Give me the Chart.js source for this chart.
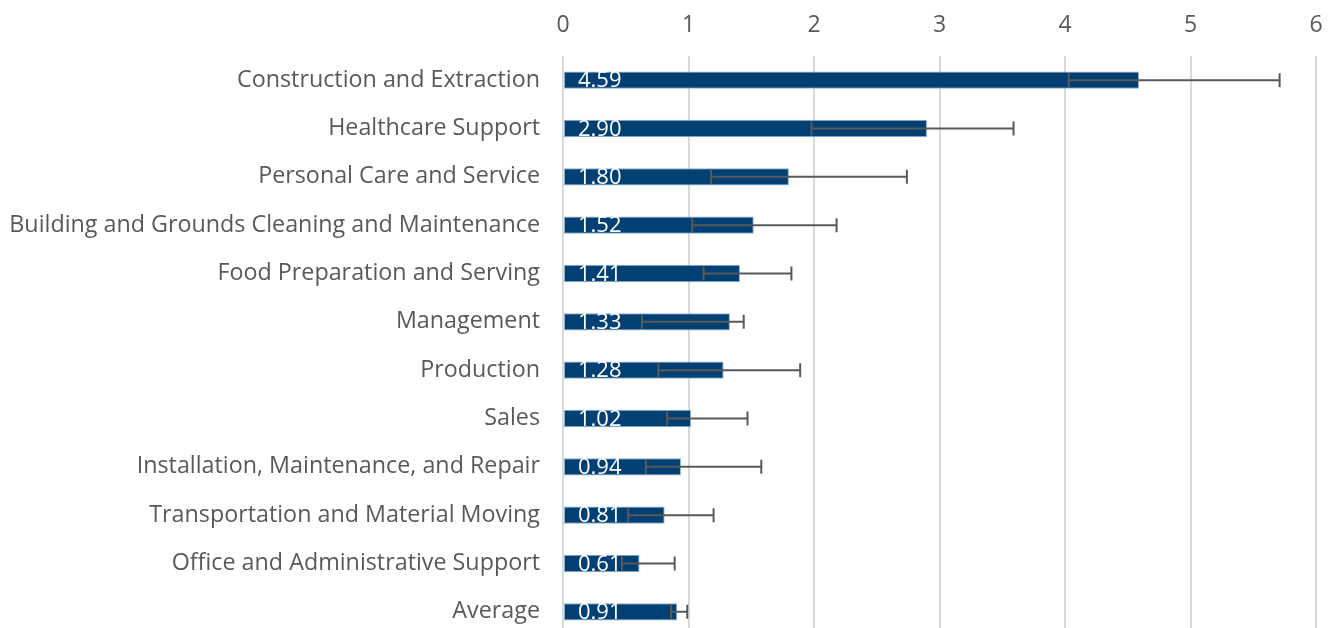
<!DOCTYPE html>
<html lang="en">
  <head>
    <meta charset="UTF-8" />
    <title>Occupation rates</title>
    <style>
      html, body { margin: 0; padding: 0; background: #fff; overflow: hidden; }
      canvas { display: block; }
    </style>
  </head>
  <body>
    <canvas id="chart" width="1336" height="636"></canvas>

    <script src="https://cdn.jsdelivr.net/npm/chart.js"></script>
    <script>
      const categories = [
        "Construction and Extraction",
        "Healthcare Support",
        "Personal Care and Service",
        "Building and Grounds Cleaning and Maintenance",
        "Food Preparation and Serving",
        "Management",
        "Production",
        "Sales",
        "Installation, Maintenance, and Repair",
        "Transportation and Material Moving",
        "Office and Administrative Support",
        "Average",
      ];
      const values = [4.59, 2.9, 1.8, 1.52, 1.41, 1.33, 1.28, 1.02, 0.94, 0.81, 0.61, 0.91];
      const errLow = [4.03, 1.98, 1.18, 1.03, 1.12, 0.63, 0.76, 0.83, 0.66, 0.52, 0.47, 0.86];
      const errHigh = [5.71, 3.59, 2.74, 2.18, 1.82, 1.44, 1.89, 1.47, 1.58, 1.2, 0.89, 0.99];
      const xTicks = [0, 1, 2, 3, 4, 5, 6];

      // white value labels + error bars, drawn on top of the bars
      const overlay = {
        id: "overlay",
        afterDatasetsDraw(chart) {
          const ctx = chart.ctx;
          const x = chart.scales.x;
          const meta = chart.getDatasetMeta(0);
          ctx.save();
          meta.data.forEach((bar, i) => {
            ctx.fillStyle = "#ffffff";
            ctx.font = "22px 'Open Sans'";
            ctx.textAlign = "left";
            ctx.textBaseline = "middle";
            ctx.fillText(values[i].toFixed(2), x.getPixelForValue(0) + 15, bar.y + 1);

            const x1 = x.getPixelForValue(errLow[i]);
            const x2 = x.getPixelForValue(errHigh[i]);
            ctx.strokeStyle = "#595959";
            ctx.lineWidth = 2;
            ctx.beginPath();
            ctx.moveTo(x1, bar.y);
            ctx.lineTo(x2, bar.y);
            ctx.moveTo(x1, bar.y - 7);
            ctx.lineTo(x1, bar.y + 7);
            ctx.moveTo(x2, bar.y - 7);
            ctx.lineTo(x2, bar.y + 7);
            ctx.stroke();
          });
          ctx.restore();
        },
      };

      new Chart(document.getElementById("chart"), {
        type: "bar",
        data: {
          labels: categories,
          datasets: [
            {
              data: values,
              backgroundColor: "#023f73",
              borderColor: "#8fb0cf",
              borderWidth: 1,
              borderSkipped: false,
              categoryPercentage: 1,
              barPercentage: 0.36,
            },
          ],
        },
        options: {
          indexAxis: "y",
          responsive: false,
          animation: false,
          layout: { padding: { left: 9, right: 20, top: 5, bottom: 0 } },
          plugins: {
            legend: { display: false },
            tooltip: { enabled: false },
          },
          scales: {
            x: {
              position: "top",
              min: 0,
              max: 6,
              afterBuildTicks(axis) {
                axis.ticks = xTicks.map((v) => ({ value: v }));
              },
              afterFit(axis) {
                axis.height = 51;
                axis.paddingLeft = 0;
                axis.paddingRight = 0;
              },
              grid: { color: "#d9d9d9", lineWidth: 2, drawTicks: false },
              border: { display: false },
              ticks: {
                color: "#595959",
                font: { family: "'Open Sans'", size: 23 },
                padding: 17,
              },
            },
            y: {
              afterFit(axis) {
                axis.width = 554;
                axis.paddingTop = 0;
                axis.paddingBottom = 0;
              },
              grid: { display: false },
              border: { display: false },
              ticks: {
                color: "#595959",
                font: { family: "'Open Sans'", size: 23.3 },
                padding: 15,
              },
            },
          },
        },
        plugins: [overlay],
      });
    </script>
  </body>
</html>
